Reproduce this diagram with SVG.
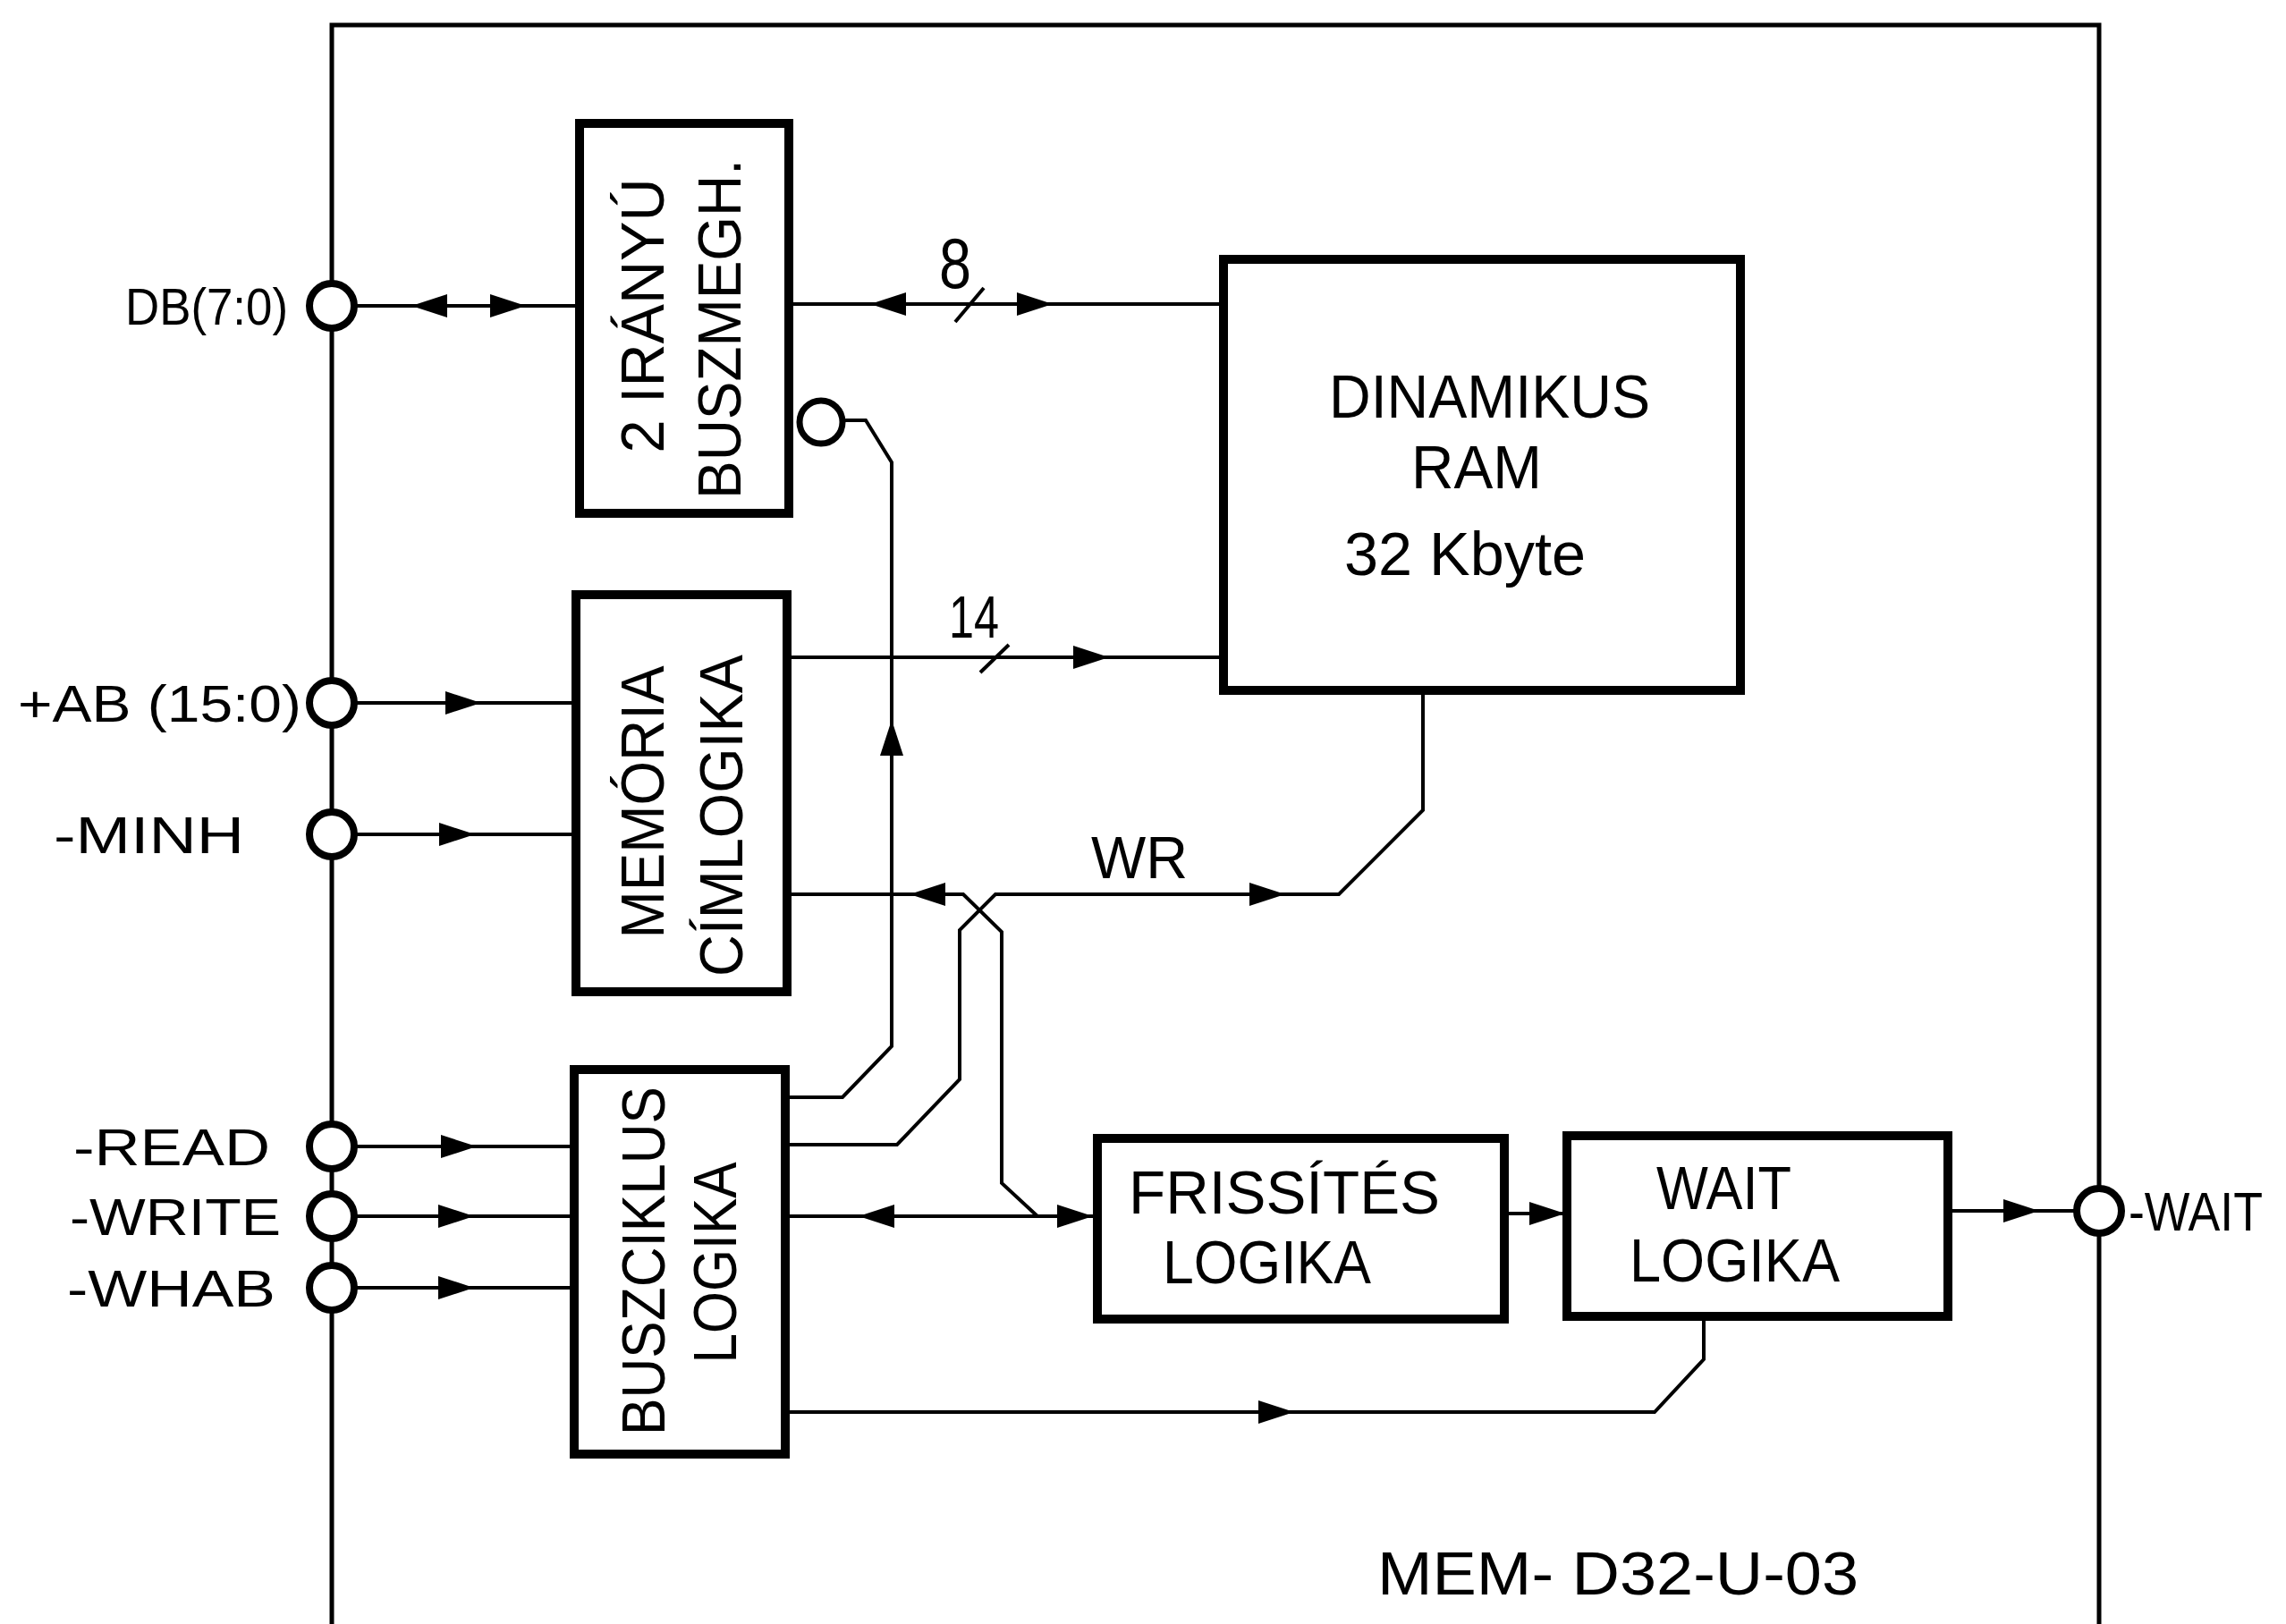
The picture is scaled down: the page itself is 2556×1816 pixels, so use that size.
<svg xmlns="http://www.w3.org/2000/svg" xmlns:xlink="http://www.w3.org/1999/xlink" width="2556" height="1816" viewBox="0 0 2556 1816">
<style>
.box{fill:#fff;stroke:#000;stroke-width:10}
.wire{fill:none;stroke:#000;stroke-width:4;stroke-linejoin:miter}
.frame{fill:none;stroke:#000;stroke-width:5}
.port{fill:#fff;stroke:#000;stroke-width:8}
.t{font-family:"Liberation Sans",Arial,sans-serif;fill:#000}
.bx{font-size:68px}
.pl{font-size:58px}
</style>
<defs>
<path id="ah" d="M0,0 L-40,-13 L-40,13 Z" fill="#000"/>
</defs>
<rect width="2556" height="1816" fill="#fff"/>

<g id="frame">
<path class="frame" d="M371,1816 V28 H2347 V1816"/>
<text class="t bx" x="1540" y="1783" textLength="538" lengthAdjust="spacingAndGlyphs">MEM- D32-U-03</text>
</g>

<g id="connectors">
<path class="wire" d="M371,342 H648"/>
<path class="wire" d="M882,340 H1368"/>
<path class="wire" d="M1068,360 L1100,322"/>
<path class="wire" d="M371,786 H644"/>
<path class="wire" d="M371,933 H644"/>
<path class="wire" d="M880,735 H1368"/>
<path class="wire" d="M1096,752 L1128,721"/>
<path class="wire" d="M942,470 H968 L997,517 V1170 L942,1227 H878"/>
<path class="wire" d="M880,1000 H1077 L1120,1042 V1323 L1160,1360"/>
<path class="wire" d="M878,1280 H1003 L1073,1207 V1040 L1113,1000 H1497 L1591,906 V772"/>
<path class="wire" d="M371,1282 H642"/>
<path class="wire" d="M371,1360 H642"/>
<path class="wire" d="M371,1440 H642"/>
<path class="wire" d="M878,1360 H1227"/>
<path class="wire" d="M1682,1357 H1752"/>
<path class="wire" d="M2178,1354 H2347"/>
<path class="wire" d="M878,1579 H1850 L1905,1520 V1472"/>
<use xlink:href="#ah" transform="translate(460,342) rotate(180)"/>
<use xlink:href="#ah" transform="translate(588,342)"/>
<use xlink:href="#ah" transform="translate(973,340) rotate(180)"/>
<use xlink:href="#ah" transform="translate(1177,340)"/>
<use xlink:href="#ah" transform="translate(538,786)"/>
<use xlink:href="#ah" transform="translate(531,933)"/>
<use xlink:href="#ah" transform="translate(1240,735)"/>
<use xlink:href="#ah" transform="translate(997,805) rotate(-90)"/>
<use xlink:href="#ah" transform="translate(1017,1000) rotate(180)"/>
<use xlink:href="#ah" transform="translate(1437,1000)"/>
<use xlink:href="#ah" transform="translate(533,1282)"/>
<use xlink:href="#ah" transform="translate(530,1360)"/>
<use xlink:href="#ah" transform="translate(530,1440)"/>
<use xlink:href="#ah" transform="translate(960,1360) rotate(180)"/>
<use xlink:href="#ah" transform="translate(1222,1360)"/>
<use xlink:href="#ah" transform="translate(1750,1357)"/>
<use xlink:href="#ah" transform="translate(2280,1354)"/>
<use xlink:href="#ah" transform="translate(1447,1579)"/>
<text class="t" font-size="80" x="1050" y="322" textLength="36" lengthAdjust="spacingAndGlyphs">8</text>
<text class="t" font-size="67" x="1061" y="713" textLength="56" lengthAdjust="spacingAndGlyphs">14</text>
<text class="t" font-size="67" x="1220" y="982" textLength="108" lengthAdjust="spacingAndGlyphs">WR</text>
</g>

<g id="port-db">
<circle class="port" cx="371" cy="342" r="25"/>
<text class="t pl" x="322" y="363" text-anchor="end" textLength="182" lengthAdjust="spacingAndGlyphs">DB(7:0)</text>
</g>
<g id="port-ab">
<circle class="port" cx="371" cy="786" r="25"/>
<text class="t pl" x="337" y="807" text-anchor="end" textLength="317" lengthAdjust="spacingAndGlyphs">+AB (15:0)</text>
</g>
<g id="port-minh">
<circle class="port" cx="371" cy="933" r="25"/>
<text class="t pl" x="273" y="954" text-anchor="end" textLength="213" lengthAdjust="spacingAndGlyphs">-MINH</text>
</g>
<g id="port-read">
<circle class="port" cx="371" cy="1282" r="25"/>
<text class="t pl" x="302" y="1303" text-anchor="end" textLength="220" lengthAdjust="spacingAndGlyphs">-READ</text>
</g>
<g id="port-write">
<circle class="port" cx="371" cy="1360" r="25"/>
<text class="t pl" x="314" y="1381" text-anchor="end" textLength="236" lengthAdjust="spacingAndGlyphs">-WRITE</text>
</g>
<g id="port-whab">
<circle class="port" cx="371" cy="1440" r="25"/>
<text class="t pl" x="308" y="1461" text-anchor="end" textLength="233" lengthAdjust="spacingAndGlyphs">-WHAB</text>
</g>
<g id="port-wait">
<circle class="port" cx="2347" cy="1354" r="25"/>
<text class="t" font-size="62" x="2380" y="1376" textLength="150" lengthAdjust="spacingAndGlyphs">-WAIT</text>
</g>

<g id="buszmegh">
<rect class="box" x="648" y="138" width="234" height="436"/>
<circle class="port" cx="918" cy="472" r="24" style="stroke-width:7"/>
<text class="t bx" transform="translate(742,353) rotate(-90)" text-anchor="middle" textLength="307" lengthAdjust="spacingAndGlyphs">2 IRÁNYÚ</text>
<text class="t bx" transform="translate(828,368) rotate(-90)" text-anchor="middle" textLength="380" lengthAdjust="spacingAndGlyphs">BUSZMEGH.</text>
</g>

<g id="cimlogika">
<rect class="box" x="644" y="665" width="236" height="444"/>
<text class="t bx" transform="translate(742,897) rotate(-90)" text-anchor="middle" textLength="305" lengthAdjust="spacingAndGlyphs">MEMÓRIA</text>
<text class="t bx" transform="translate(830,912) rotate(-90)" text-anchor="middle" textLength="360" lengthAdjust="spacingAndGlyphs">CÍMLOGIKA</text>
</g>

<g id="buszciklus">
<rect class="box" x="642" y="1196" width="236" height="430"/>
<text class="t bx" transform="translate(743,1410) rotate(-90)" text-anchor="middle" textLength="390" lengthAdjust="spacingAndGlyphs">BUSZCIKLUS</text>
<text class="t bx" transform="translate(823,1412) rotate(-90)" text-anchor="middle" textLength="225" lengthAdjust="spacingAndGlyphs">LOGIKA</text>
</g>

<g id="ram">
<rect class="box" x="1368" y="290" width="578" height="482"/>
<text class="t bx" x="1486" y="467" textLength="359" lengthAdjust="spacingAndGlyphs">DINAMIKUS</text>
<text class="t bx" x="1578" y="546" textLength="146" lengthAdjust="spacingAndGlyphs">RAM</text>
<text class="t bx" x="1503" y="643" textLength="270" lengthAdjust="spacingAndGlyphs">32 Kbyte</text>
</g>

<g id="frissites">
<rect class="box" x="1227" y="1273" width="455" height="202"/>
<text class="t bx" x="1262" y="1357" textLength="348" lengthAdjust="spacingAndGlyphs">FRISSÍTÉS</text>
<text class="t bx" x="1300" y="1435" textLength="233" lengthAdjust="spacingAndGlyphs">LOGIKA</text>
</g>

<g id="waitlogika">
<rect class="box" x="1752" y="1270" width="426" height="202"/>
<text class="t bx" x="1852" y="1352" textLength="151" lengthAdjust="spacingAndGlyphs">WAIT</text>
<text class="t bx" x="1822" y="1433" textLength="235" lengthAdjust="spacingAndGlyphs">LOGIKA</text>
</g>
</svg>
